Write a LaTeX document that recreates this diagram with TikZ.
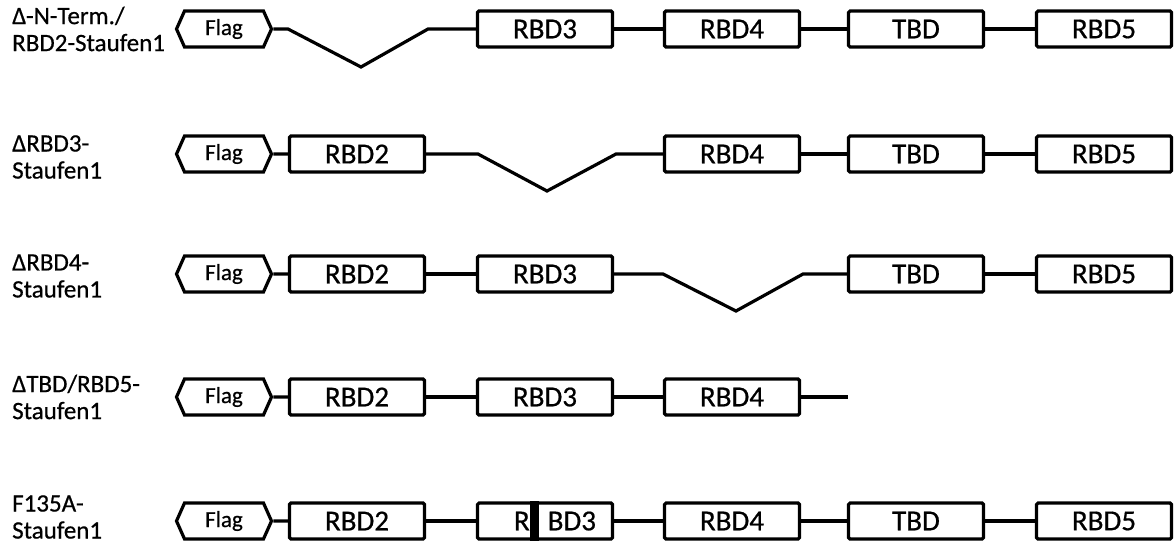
\documentclass[tikz,border=0pt]{standalone}
\usepackage{fontspec}
\setmainfont{Carlito}[FakeBold=0.6]
\usetikzlibrary{shapes.symbols}
\tikzset{
  ln/.style={line width=3.2pt, line join=miter},
  dom/.style={draw, line width=3.2pt, rounded corners=1.5pt, minimum width=135pt, minimum height=36pt, inner sep=0pt, fill=white, font=\fontsize{29}{31}\selectfont},
  flagbox/.style={draw, line width=3.2pt, shape=signal, signal to=west and east, signal pointer angle=132, minimum width=95pt, minimum height=36pt, inner sep=0pt, font=\fontsize{23}{25}\selectfont},
  lab/.style={anchor=west, align=left, inner sep=0pt, font=\fontsize{25}{27}\selectfont},
}
\begin{document}
\begin{tikzpicture}[x=1pt,y=-1pt]
\useasboundingbox (0,0) rectangle (1174,543);
% row 1
\node[lab] (l1) at (12,29) {Δ-N-Term./\\RBD2-Staufen1};
\node[flagbox] (f1) at (224,29) {Flag};
\node[dom] (r1b3) at (545,29) {RBD3};
\node[dom] (r1b4) at (732,29) {RBD4};
\node[dom] (r1t) at (916,29) {TBD};
\node[dom] (r1b5) at (1104,29) {RBD5};
\coordinate (v1a) at (288,29);
\coordinate (v1b) at (361,67);
\coordinate (v1c) at (428,29);
\draw[ln] (f1.east) -- (v1a) -- (v1b) -- (v1c) -- (r1b3.west);
\draw[ln] (r1b3) -- (r1b4);
\draw[ln] (r1b4) -- (r1t);
\draw[ln] (r1t) -- (r1b5);
% row 2
\node[lab] (l2) at (12,157) {ΔRBD3-\\Staufen1};
\node[flagbox] (f2) at (224,154) {Flag};
\node[dom] (r2b2) at (357,154) {RBD2};
\node[dom] (r2b4) at (732,154) {RBD4};
\node[dom] (r2t) at (916,154) {TBD};
\node[dom] (r2b5) at (1104,154) {RBD5};
\coordinate (v2a) at (478,154);
\coordinate (v2b) at (547,191);
\coordinate (v2c) at (616,154);
\draw[ln] (f2) -- (r2b2);
\draw[ln] (r2b2.east) -- (v2a) -- (v2b) -- (v2c) -- (r2b4.west);
\draw[ln] (r2b4) -- (r2t);
\draw[ln] (r2t) -- (r2b5);
% row 3
\node[lab] (l3) at (12,276) {ΔRBD4-\\Staufen1};
\node[flagbox] (f3) at (224,274) {Flag};
\node[dom] (r3b2) at (357,274) {RBD2};
\node[dom] (r3b3) at (545,274) {RBD3};
\node[dom] (r3t) at (916,274) {TBD};
\node[dom] (r3b5) at (1104,274) {RBD5};
\coordinate (v3a) at (663,274);
\coordinate (v3b) at (736,311);
\coordinate (v3c) at (803,274);
\draw[ln] (f3) -- (r3b2);
\draw[ln] (r3b2) -- (r3b3);
\draw[ln] (r3b3.east) -- (v3a) -- (v3b) -- (v3c) -- (r3t.west);
\draw[ln] (r3t) -- (r3b5);
% row 4
\node[lab] (l4) at (12,397) {ΔTBD/RBD5-\\Staufen1};
\node[flagbox] (f4) at (224,397) {Flag};
\node[dom] (r4b2) at (357,397) {RBD2};
\node[dom] (r4b3) at (545,397) {RBD3};
\node[dom] (r4b4) at (732,397) {RBD4};
\coordinate (e4) at (848,397);
\draw[ln] (f4) -- (r4b2);
\draw[ln] (r4b2) -- (r4b3);
\draw[ln] (r4b3) -- (r4b4);
\draw[ln] (r4b4.east) -- (e4);
% row 5
\node[lab] (l5) at (12,517) {F135A-\\Staufen1};
\node[flagbox] (f5) at (224,521) {Flag};
\node[dom] (r5b2) at (357,521) {RBD2};
\node[dom] (r5b3) at (545,521) {\hspace*{20pt}R\hspace{18pt}BD3};
\node[dom] (r5b4) at (732,521) {RBD4};
\node[dom] (r5t) at (916,521) {TBD};
\node[dom] (r5b5) at (1104,521) {RBD5};
\fill ([xshift=54pt]r5b3.south west) rectangle ([xshift=63pt]r5b3.north west);
\draw[ln] (f5) -- (r5b2);
\draw[ln] (r5b2) -- (r5b3);
\draw[ln] (r5b3) -- (r5b4);
\draw[ln] (r5b4) -- (r5t);
\draw[ln] (r5t) -- (r5b5);
\end{tikzpicture}
\end{document}
